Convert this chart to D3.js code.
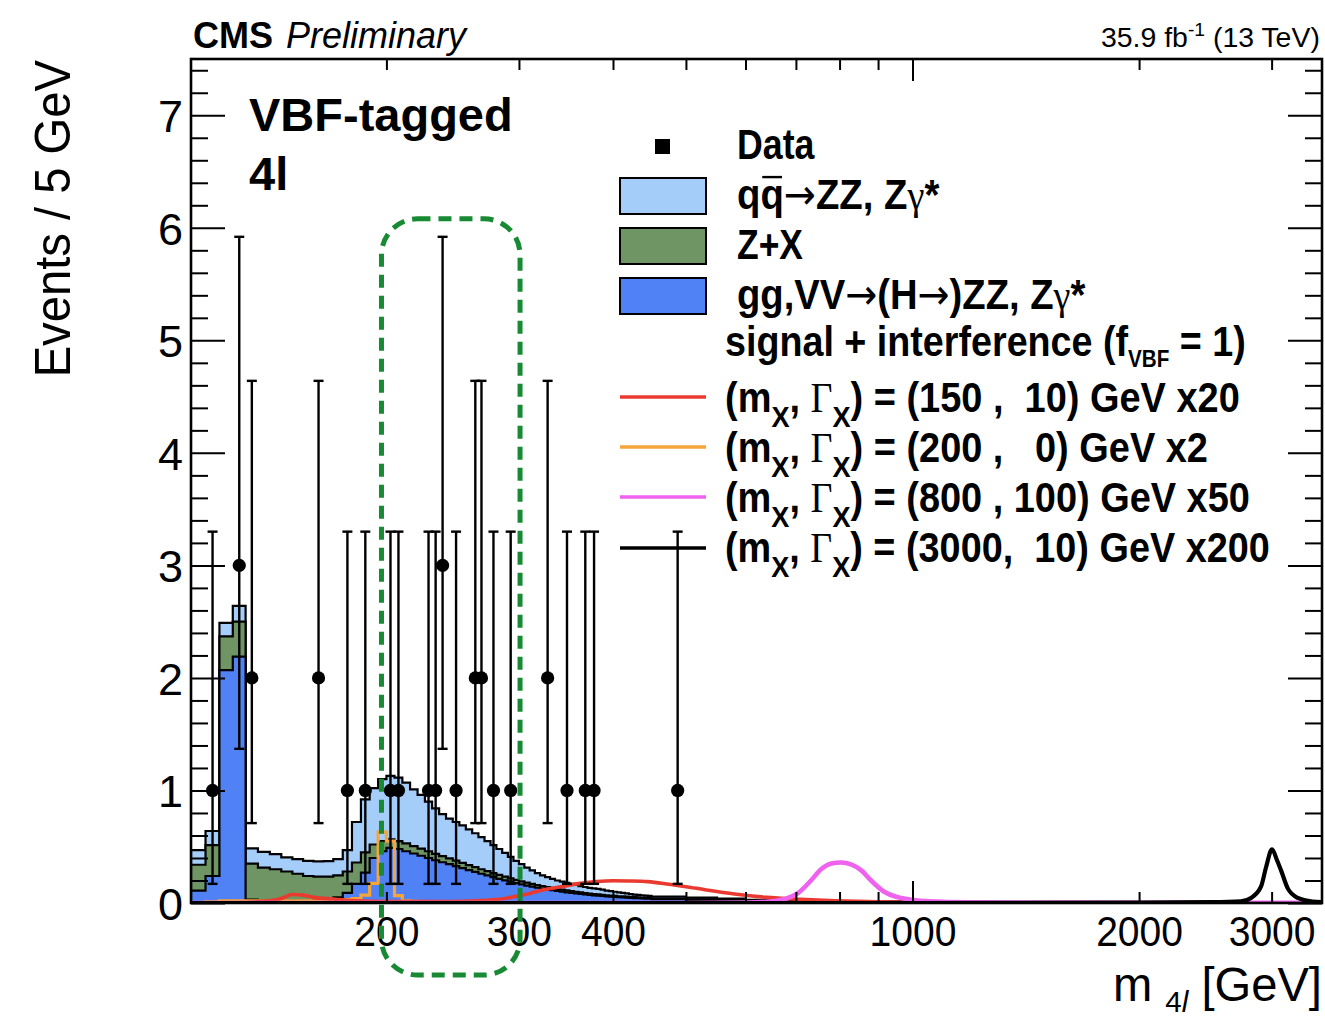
<!DOCTYPE html>
<html><head><meta charset="utf-8">
<script src="https://cdn.jsdelivr.net/npm/d3@7"></script>
<style>html,body{margin:0;padding:0;background:#fff;} svg{display:block;}</style>
</head><body>
<svg id="c" width="1325" height="1017"></svg>
<script>
// ---------------- DATA ----------------
// histogram bin edges in GeV (5 GeV bins, wider bins in the flat tail)
const binEdges = [110,115,120,125,130,135,140,145,150,155,
  160,165,170,175,180,185,190,195,200,205,
  210,215,220,225,230,235,240,245,250,255,
  260,265,270,275,280,285,290,295,300,305,
  310,315,320,325,330,335,340,345,350,355,
  360,365,370,375,380,385,390,395,400,405,
  410,415,420,425,430,435,440,445,
  450,500,550,600,700,800,1000,1500,2000,3500];
// gg,VV -> (H->)ZZ, Zgamma*  (events / 5 GeV)
const ggVV = [0.11,0.24,2.07,2.19,0.03,0.025,0.02,0.02,0.02,0.02,
  0.03,0.035,0.05,0.09,0.17,0.27,0.40,0.46,0.49,0.48,
  0.46,0.44,0.42,0.40,0.38,0.362,0.345,0.327,0.31,0.292,
  0.276,0.26,0.245,0.23,0.215,0.201,0.189,0.177,0.165,0.155,
  0.145,0.136,0.128,0.121,0.114,0.107,0.101,0.095,0.09,0.085,
  0.08,0.076,0.072,0.068,0.065,0.062,0.059,0.056,0.054,0.052,
  0.05,0.048,0.046,0.044,0.042,0.04,0.039,0.038,
  0.034,0.028,0.023,0.017,0.012,0.008,0.004,0.002,0.001];
// Z+X
const zPlusX = [0.23,0.275,0.30,0.31,0.32,0.29,0.28,0.26,0.24,0.22,
  0.205,0.20,0.195,0.19,0.19,0.18,0.12,0.09,0.075,0.07,
  0.07,0.065,0.063,0.06,0.057,0.055,0.052,0.05,0.047,0.045,
  0.042,0.04,0.038,0.036,0.035,0.033,0.031,0.029,0.028,0.026,
  0.025,0.024,0.022,0.021,0.02,0.019,0.018,0.017,0.016,0.015,
  0.014,0.013,0.012,0.012,0.011,0.010,0.010,0.010,0.009,0.008,
  0.008,0.008,0.008,0.008,0.008,0.008,0.007,0.007,
  0.006,0.005,0.004,0.003,0.002,0.002,0.001,0.0005,0.0003];
// qqbar -> ZZ, Zgamma*
const qqZZ = [0.13,0.125,0.12,0.14,0.135,0.14,0.135,0.125,0.13,0.135,
  0.135,0.137,0.145,0.19,0.36,0.47,0.50,0.55,0.565,0.565,
  0.54,0.505,0.477,0.44,0.403,0.373,0.353,0.343,0.333,0.318,
  0.302,0.285,0.267,0.249,0.23,0.211,0.19,0.169,0.152,0.134,
  0.12,0.105,0.095,0.088,0.081,0.074,0.071,0.068,0.064,0.06,
  0.056,0.053,0.051,0.05,0.049,0.046,0.041,0.039,0.037,0.035,
  0.032,0.029,0.026,0.023,0.022,0.021,0.02,0.018,
  0.017,0.014,0.012,0.009,0.007,0.005,0.003,0.0015,0.0008];
// signal (200, 0) x2, step histogram on the first 30 bins
const sig200 = [0.0,0.01,0.02,0.02,0.02,0.02,0.02,0.02,0.02,0.02,
  0.02,0.02,0.025,0.03,0.04,0.07,0.175,0.63,0.55,0.065,
  0.02,0.015,0.01,0.01,0.005,0.005,0.005,0.005,0.005,0.005];
// signal (150, 10) x20
const sig150Mass = [110,130,140,145,150,155,160,170,180,200,230,260,280,295,310,325,345,360,380,400,420,445,475,500,530,580,640,710,790,900,1000,1500,3500];
const sig150Val  = [0,0.005,0.02,0.04,0.075,0.07,0.05,0.035,0.022,0.012,0.012,0.018,0.03,0.055,0.085,0.12,0.15,0.172,0.19,0.198,0.196,0.19,0.166,0.145,0.118,0.08,0.05,0.033,0.02,0.01,0.005,0.001,0];
// signal (800, 100) x50
const sig800Mass = [110,500,600,650,680,705,733,756,780,804,830,855,881,917,966,1049,1200,1500,3500];
const sig800Val  = [0,0,0.004,0.015,0.04,0.09,0.2,0.3,0.35,0.36,0.34,0.29,0.2,0.1,0.044,0.015,0.006,0.003,0.002];
// signal (3000, 10) x200
const sig3000Mass = [110,1000,2000,2500,2732,2816,2904,2950,3004,3050,3088,3152,3250,3400,3500];
const sig3000Val  = [0,0,0.003,0.007,0.015,0.045,0.145,0.32,0.477,0.38,0.29,0.13,0.045,0.012,0.007];
// data
const dataMass  = [117.5,127.5,132.5,162.5,177.5,187.5,202.5,207.5,227.5,232.5,237.5,247.5,262.5,267.5,277.5,292.5,327.5,347.5,367.5,377.5,487.5];
const dataCount = [1,3,2,2,1,1,1,1,1,1,3,1,2,2,1,1,2,1,1,1,1];
const dataErrLow  = [0.17,1.37,0.71,0.71,0.17,0.17,0.17,0.17,0.17,0.17,1.37,0.17,0.71,0.71,0.17,0.17,0.71,0.17,0.17,0.17,0.17];
const dataErrHigh = [3.30,5.92,4.64,4.64,3.30,3.30,3.30,3.30,3.30,3.30,5.92,3.30,4.64,4.64,3.30,3.30,4.64,3.30,3.30,3.30,3.30];
// axes
const xTickLabels = [200,300,400,1000,2000,3000];
const xMinorTicks = [200,300,400,500,600,700,800,900,2000,3000];
const xMajorTicks = [1000];
const yTickLabels = [0,1,2,3,4,5,6,7];
const yMinorTicks = [0.2,0.4,0.6,0.8,1.2,1.4,1.6,1.8,2.2,2.4,2.6,2.8,3.2,3.4,3.6,3.8,4.2,4.4,4.6,4.8,5.2,5.4,5.6,5.8,6.2,6.4,6.6,6.8,7.2,7.4];
// highlighted mass window (dashed box)
const boxMass = [197, 301];
const boxVal = [-0.64, 6.08];

// ---------------- LAYOUT ----------------
const svg = d3.select("#c");
const L = 191, R = 1322, T = 59, B = 903;
const x = d3.scaleLog().domain([110, 3500]).range([L, R]);
const y = d3.scaleLinear().domain([0, 7.5]).range([B, T]);
const SANS = "'Liberation Sans', Arial, Helvetica, sans-serif";
const SERIF = "'Liberation Serif', 'Times New Roman', serif";
const ARROWF = "'DejaVu Sans', sans-serif";
const C = {qq:"#a4cdfa", zx:"#6f9565", gg:"#5081f5", red:"#ea3a30", orange:"#f5a53a", magenta:"#ee62ee", green:"#178a33"};

svg.append("rect").attr("width",1325).attr("height",1017).attr("fill","#fff");
svg.append("defs").append("clipPath").attr("id","clip")
  .append("rect").attr("x",L).attr("y",T).attr("width",R-L).attr("height",B-T);
const plot = svg.append("g").attr("clip-path","url(#clip)");

// stacked histogram
const rows = ggVV.map((_, i) => ({gg: ggVV[i], zx: zPlusX[i], qq: qqZZ[i]}));
const series = d3.stack().keys(["gg","zx","qq"])(rows);
function stepPoints(edges, tops) {
  const p = [[edges[0], 0]];
  tops.forEach((v, i) => p.push([edges[i], v]));
  p.push([edges[tops.length], tops[tops.length-1]]);
  p.push([edges[tops.length], 0]);
  return p;
}
const area = d3.area().x(d => x(d[0])).y0(y(0)).y1(d => y(d[1])).curve(d3.curveStepAfter);
const sline = d3.line().x(d => x(d[0])).y(d => y(d[1])).curve(d3.curveStepAfter);
[2,1,0].forEach(k => {
  const key = series[k].key;
  const pts = stepPoints(binEdges, series[k].map(d => d[1]));
  plot.append("path").attr("d", area(pts)).attr("fill", C[key]);
  plot.append("path").attr("d", sline(pts)).attr("fill","none").attr("stroke","#000").attr("stroke-width",2.2);
});

// signal 200 (step)
plot.append("path").attr("d", sline(stepPoints(binEdges.slice(0, sig200.length+1), sig200)))
  .attr("fill","none").attr("stroke",C.orange).attr("stroke-width",3.2);

const cline = d3.line().x(d => x(d[0])).y(d => y(d[1])).curve(d3.curveMonotoneX);
function curve(ms, vs, col, w) {
  plot.append("path").attr("d", cline(ms.map((m,i)=>[m, vs[i]])))
    .attr("fill","none").attr("stroke",col).attr("stroke-width",w).attr("stroke-linejoin","round");
}
curve(sig150Mass, sig150Val, C.red, 3.6);
curve(sig800Mass, sig800Val, C.magenta, 4.6);
curve(sig3000Mass, sig3000Val, "#000", 4.2);

// data
const dg = plot.append("g");
dataMass.forEach((m, i) => {
  const xx = x(m);
  dg.append("line").attr("x1",xx).attr("x2",xx).attr("y1",y(dataErrLow[i])).attr("y2",y(dataErrHigh[i])).attr("stroke","#000").attr("stroke-width",2.4);
  [dataErrLow[i], dataErrHigh[i]].forEach(v => dg.append("line").attr("x1",xx-5).attr("x2",xx+5).attr("y1",y(v)).attr("y2",y(v)).attr("stroke","#000").attr("stroke-width",2.4));
  dg.append("circle").attr("cx",xx).attr("cy",y(dataCount[i])).attr("r",6.6).attr("fill","#000");
});

// frame
svg.append("rect").attr("x",L).attr("y",T).attr("width",R-L).attr("height",B-T)
  .attr("fill","none").attr("stroke","#000").attr("stroke-width",2.6);

// axes ticks
function ticks(axisFn, vals, size, tr) {
  const g = svg.append("g").attr("transform", tr).call(axisFn.tickValues(vals).tickSize(size).tickFormat(""));
  g.select(".domain").remove();
  g.selectAll(".tick line").attr("stroke","#000").attr("stroke-width",2);
  return g;
}
ticks(d3.axisBottom(x), xMinorTicks, -11, `translate(0,${B})`);
ticks(d3.axisBottom(x), xMajorTicks, -22, `translate(0,${B})`);
ticks(d3.axisTop(x), xMinorTicks, -11, `translate(0,${T})`);
ticks(d3.axisTop(x), xMajorTicks, -22, `translate(0,${T})`);
ticks(d3.axisLeft(y), yTickLabels, -34, `translate(${L},0)`);
ticks(d3.axisLeft(y), yMinorTicks, -17, `translate(${L},0)`);
ticks(d3.axisRight(y), yTickLabels, -34, `translate(${R},0)`);
ticks(d3.axisRight(y), yMinorTicks, -17, `translate(${R},0)`);

// tick labels
const yl = svg.append("g").attr("transform",`translate(${L},0)`)
  .call(d3.axisLeft(y).tickValues(yTickLabels).tickSize(0).tickPadding(8).tickFormat(d3.format("d")));
yl.select(".domain").remove();
yl.selectAll("text").attr("font-family",SANS).attr("font-size",45).attr("fill","#000").attr("dy","0.36em");
const xl = svg.append("g").attr("transform",`translate(0,${B})`)
  .call(d3.axisBottom(x).tickValues(xTickLabels).tickSize(0).tickFormat(d3.format("d")));
xl.select(".domain").remove();
xl.selectAll("text").attr("font-family",SANS).attr("font-size",42).attr("fill","#000")
  .attr("y",43).attr("dy",0).attr("transform","scale(0.93,1)");

// ---------------- TEXT HELPERS ----------------
function fitText(x0, yb, w, anchor, build, extra) {
  const g = svg.append("g");
  const t = g.append("text").attr("x",0).attr("y",0).style("white-space","pre");
  build(t);
  const bb = t.node().getBBox();
  const s = w / bb.width;
  const left = anchor === "end" ? x0 - w : x0;
  g.attr("transform", `translate(${left - bb.x*s},${yb}) scale(${s},1)`);
  if (extra) extra(g, t);
  return g;
}
function rich(t, parts, fs, weight, fam) {
  t.style("font-family", fam || SANS).style("font-weight", weight).style("font-size", fs+"px").attr("fill","#000");
  let shift = 0;
  parts.forEach(p => {
    const ts = t.append("tspan").text(p.t);
    const want = p.sh || 0;
    if (want !== shift) { ts.attr("dy", want - shift); shift = want; }
    if (p.fs) ts.style("font-size", p.fs + "px");
    if (p.serif) ts.style("font-family", SERIF).style("font-weight","normal");
    if (p.arrow) ts.style("font-family", ARROWF).style("font-weight","normal");
    if (p.it) ts.style("font-style","italic");
  });
}

// header
svg.append("text").attr("x",193).attr("y",48).attr("font-family",SANS).attr("font-weight","bold").attr("font-size",36).text("CMS");
svg.append("text").attr("x",286).attr("y",48).attr("font-family",SANS).attr("font-style","italic").attr("font-size",36).text("Preliminary");
fitText(1320, 47, 219, "end", t => rich(t, [{t:"35.9 fb"},{t:"-1", fs:19, sh:-11},{t:" (13 TeV)"}], 28, "normal"));

svg.append("text").attr("x",249).attr("y",131).attr("font-family",SANS).attr("font-weight","bold").attr("font-size",47).text("VBF-tagged");
svg.append("text").attr("x",249).attr("y",190).attr("font-family",SANS).attr("font-weight","bold").attr("font-size",47).text("4l");

// axis titles
(function(){
  const g = svg.append("g");
  const t = g.append("text").attr("text-anchor","end").attr("font-family",SANS).attr("font-size",50).text("Events / 5 GeV");
  const bb = t.node().getBBox();
  g.attr("transform", `translate(70,60) rotate(-90) scale(${318/bb.width},1)`);
})();
fitText(1322, 1001, 209, "end", t => rich(t, [{t:"m "},{t:"4", fs:30, sh:11},{t:"l", fs:30, sh:11, it:true},{t:" [GeV]"}], 48, "normal"));

// ---------------- LEGEND ----------------
const LX0 = 620, LX1 = 706;
svg.append("rect").attr("x",655).attr("y",139).attr("width",15).attr("height",15).attr("fill","#000");
[[196,C.qq],[246,C.zx],[296,C.gg]].forEach(([cy,col]) =>
  svg.append("rect").attr("x",LX0).attr("y",cy-18).attr("width",LX1-LX0).attr("height",36)
     .attr("fill",col).attr("stroke","#000").attr("stroke-width",2));
[[397,C.red],[447,C.orange],[497,C.magenta],[548,"#000"]].forEach(([cy,col]) =>
  svg.append("line").attr("x1",LX0).attr("x2",LX1).attr("y1",cy).attr("y2",cy).attr("stroke",col).attr("stroke-width",3.6));

const LFS = 42;
fitText(737, 159, 78, "start", t => rich(t, [{t:"Data"}], LFS, "bold"));
fitText(737, 209, 203, "start", t => rich(t, [{t:"q"},{t:"q"},{t:"→", arrow:true},{t:"ZZ, Z"},{t:"γ", serif:true},{t:"*"}], LFS, "bold"),
  (g, t) => { const e = t.node().getExtentOfChar(1);
    g.append("line").attr("x1",e.x+2).attr("x2",e.x+e.width-2).attr("y1",-LFS*0.76).attr("y2",-LFS*0.76).attr("stroke","#000").attr("stroke-width",2.4); });
fitText(737, 259, 66, "start", t => rich(t, [{t:"Z+X"}], LFS, "bold"));
fitText(737, 309, 349, "start", t => rich(t, [{t:"gg,VV"},{t:"→", arrow:true},{t:"(H"},{t:"→", arrow:true},{t:")ZZ, Z"},{t:"γ", serif:true},{t:"*"}], LFS, "bold"));
fitText(725, 356, 521, "start", t => rich(t, [{t:"signal + interference (f"},{t:"VBF", fs:23, sh:11},{t:" = 1)"}], LFS, "bold"));
const mLine = (rest) => [{t:"(m"},{t:"X", fs:30, sh:15},{t:", "},{t:"Γ", serif:true},{t:"X", fs:30, sh:15},{t:rest}];
fitText(725, 412, 515, "start", t => rich(t, mLine(") = (150 ,  10) GeV x20"), LFS, "bold"));
fitText(725, 462, 483, "start", t => rich(t, mLine(") = (200 ,   0) GeV x2"), LFS, "bold"));
fitText(725, 512, 525, "start", t => rich(t, mLine(") = (800 , 100) GeV x50"), LFS, "bold"));
fitText(725, 562, 545, "start", t => rich(t, mLine(") = (3000,  10) GeV x200"), LFS, "bold"));

// ---------------- HIGHLIGHT BOX ----------------
svg.append("rect")
  .attr("x", x(boxMass[0])).attr("y", y(boxVal[1]))
  .attr("width", x(boxMass[1]) - x(boxMass[0])).attr("height", y(boxVal[0]) - y(boxVal[1]))
  .attr("rx", 36).attr("ry", 36)
  .attr("fill","none").attr("stroke",C.green).attr("stroke-width",5).attr("stroke-dasharray","13,8");
</script>
</body></html>
